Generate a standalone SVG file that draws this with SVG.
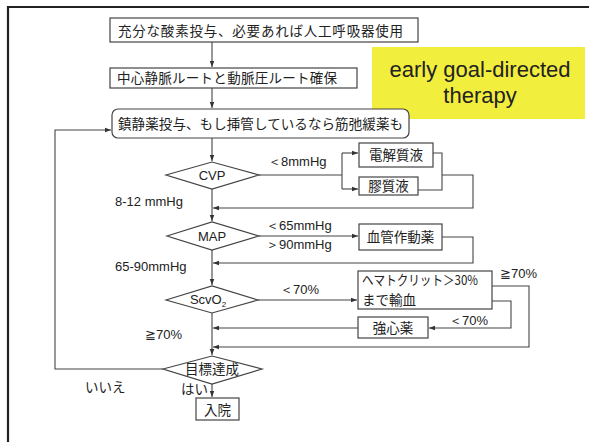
<svg xmlns="http://www.w3.org/2000/svg" width="589" height="442" viewBox="0 0 589 442">
<defs>
<marker id="ah" viewBox="0 0 8 8" refX="8" refY="4" markerWidth="6" markerHeight="6" markerUnits="userSpaceOnUse" orient="auto">
<path d="M0,1 L8,4 L0,7 z" fill="#333"/>
</marker>
<style>
.box{fill:#fff;stroke:#444;stroke-width:1.2}
.ln{fill:none;stroke:#444;stroke-width:1.1}
.jp{font-family:"Noto Sans CJK JP","Noto Sans CJK SC",sans-serif;font-size:13.5px;fill:#222}
.en{font-family:"Liberation Sans",Arial,sans-serif;font-size:13px;fill:#222}
</style>
</defs>
<rect width="589" height="442" fill="#fff"/>
<path d="M8,444 V7 H589" fill="none" stroke="#222" stroke-width="2.2"/>
<g id="egdt">
<rect x="372" y="47" width="213" height="72" fill="#f2ee3e"/>
<text x="480" y="77" text-anchor="middle" font-family="Liberation Sans,Arial,sans-serif" font-size="22" fill="#222">early goal-directed</text>
<text x="480" y="103" text-anchor="middle" font-family="Liberation Sans,Arial,sans-serif" font-size="22" fill="#222">therapy</text>
</g>
<g id="connectors">
<path class="ln" d="M212,42 V67" marker-end="url(#ah)"/>
<path class="ln" d="M212,88 V108" marker-end="url(#ah)"/>
<path class="ln" d="M212,138 V161" marker-end="url(#ah)"/>
<path class="ln" d="M259,175 H342"/>
<path class="ln" d="M342,153 V189"/>
<path class="ln" d="M342,153 H358" marker-end="url(#ah)"/>
<path class="ln" d="M342,189 H358" marker-end="url(#ah)"/>
<path class="ln" d="M433,153 H442 V190 H418"/>
<path class="ln" d="M442,175 H473 V208 H213" marker-end="url(#ah)"/>
<path class="ln" d="M212,189 V221" marker-end="url(#ah)"/>
<path class="ln" d="M259,236 H358" marker-end="url(#ah)"/>
<path class="ln" d="M442,237 H473 V263 H213" marker-end="url(#ah)"/>
<path class="ln" d="M212,250 V285" marker-end="url(#ah)"/>
<path class="ln" d="M258,300 H357" marker-end="url(#ah)"/>
<path class="ln" d="M492,286 H529 V347 H213" marker-end="url(#ah)"/>
<path class="ln" d="M492,301 H511 V328 H429" marker-end="url(#ah)"/>
<path class="ln" d="M358,328 H213" marker-end="url(#ah)"/>
<path class="ln" d="M212,313 V355" marker-end="url(#ah)"/>
<path class="ln" d="M212,384 V397" marker-end="url(#ah)"/>
<path class="ln" d="M163,369 H55 V130 H111" marker-end="url(#ah)"/>
</g>
<g id="n1"><rect class="box" x="110" y="18" width="308" height="24"/><text class="jp" x="118" y="35.5" font-size="14" textLength="285" lengthAdjust="spacing">充分な酸素投与、必要あれば人工呼吸器使用</text></g>
<g id="n2"><rect class="box" x="110" y="68" width="247" height="20"/><text class="jp" x="117" y="83" textLength="220" lengthAdjust="spacing">中心静脈ルートと動脈圧ルート確保</text></g>
<g id="n3"><rect class="box" x="112" y="109" width="297" height="29" rx="6"/><text class="jp" x="118" y="128.5" textLength="285" lengthAdjust="spacing">鎮静薬投与、もし挿管しているなら筋弛緩薬も</text></g>
<g id="cvp"><path class="box" d="M166,175 L212,162 L259,175 L212,189 Z"/><text class="en" x="212" y="180" text-anchor="middle" font-size="14">CVP</text></g>
<g id="elec"><rect class="box" x="359" y="143" width="74" height="24"/><text class="jp" x="396" y="160" text-anchor="middle">電解質液</text></g>
<g id="coll"><rect class="box" x="359" y="177" width="59" height="18"/><text class="jp" x="388.5" y="191" text-anchor="middle">膠質液</text></g>
<g id="map"><path class="box" d="M167,236 L212,222 L259,236 L212,250 Z"/><text class="en" x="212" y="241" text-anchor="middle" font-size="14">MAP</text></g>
<g id="vaso"><rect class="box" x="359" y="224" width="83" height="26"/><text class="jp" x="400.5" y="242" text-anchor="middle">血管作動薬</text></g>
<g id="scv"><path class="box" d="M166,300 L212,286 L258,300 L212,313 Z"/><text class="en" x="208" y="304" text-anchor="middle" font-size="13.5">ScvO<tspan font-size="8" dy="3">2</tspan></text></g>
<g id="hct"><rect class="box" x="358" y="271" width="134" height="38"/><text class="jp" x="362" y="285" font-size="12.5" textLength="116" lengthAdjust="spacingAndGlyphs">ヘマトクリット＞30%</text><text class="jp" x="362" y="305" font-size="13">まで輸血</text></g>
<g id="ino"><rect class="box" x="358" y="317" width="70" height="21"/><text class="jp" x="393" y="333" text-anchor="middle">強心薬</text></g>
<g id="goal"><path class="box" d="M163,369 L212,356 L262,369 L212,384 Z"/><text class="jp" x="212" y="374" text-anchor="middle" font-size="14">目標達成</text></g>
<g id="adm"><rect class="box" x="196" y="398" width="43" height="22"/><text class="jp" x="217.5" y="414.5" text-anchor="middle" font-size="14.5">入院</text></g>
<g id="labels">
<text class="en" x="268" y="166">＜8mmHg</text>
<text class="en" x="115" y="206">8-12 mmHg</text>
<text class="en" x="266" y="230">＜65mmHg</text>
<text class="en" x="266" y="249">＞90mmHg</text>
<text class="en" x="115" y="271">65-90mmHg</text>
<text class="en" x="280" y="294">＜70%</text>
<text class="en" x="500" y="278">≧70%</text>
<text class="en" x="449" y="325">＜70%</text>
<text class="en" x="145" y="339">≧70%</text>
<text class="jp" x="85" y="392" font-size="11">いいえ</text>
<text class="jp" x="181" y="393.5" font-size="11">はい</text>
</g>
</svg>
